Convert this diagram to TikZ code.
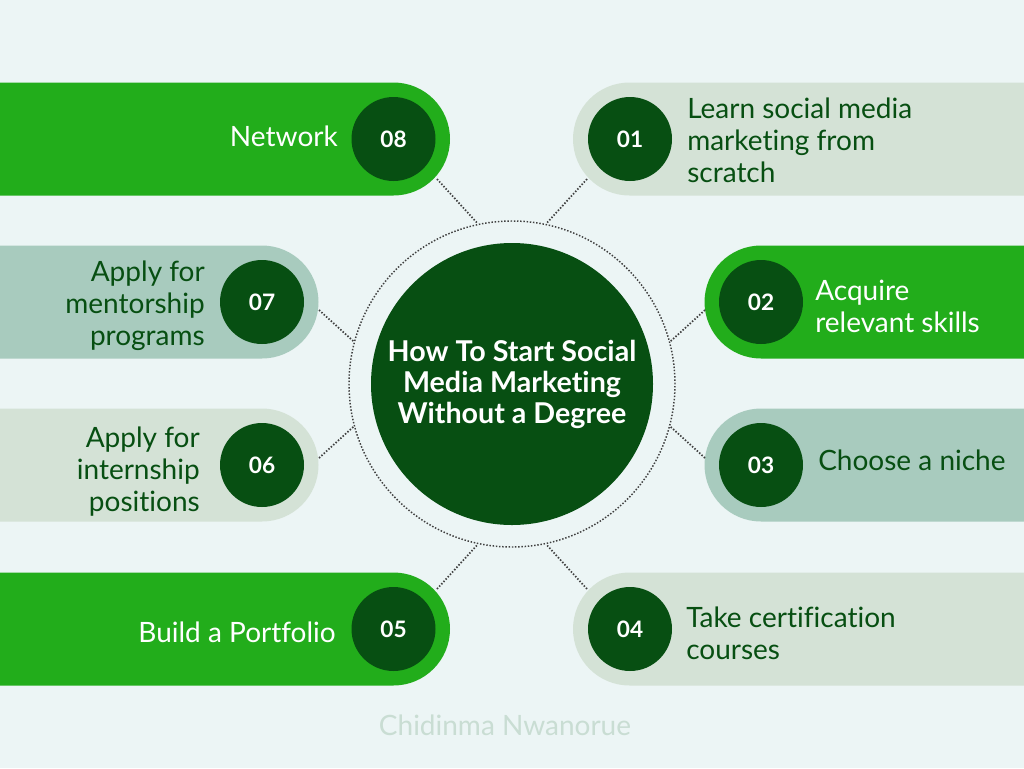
\documentclass[tikz,border=0pt]{standalone}
\usepackage{fontspec}
\setmainfont{Lato}[Ligatures=NoCommon]
\definecolor{bg}{HTML}{ECF5F5}
\definecolor{bright}{HTML}{22AD1B}
\definecolor{dark}{HTML}{074F12}
\definecolor{sage}{HTML}{A8CBBE}
\definecolor{pale}{HTML}{D4E2D6}
\definecolor{mark}{HTML}{C9DDD3}
\definecolor{dotc}{HTML}{404040}
\tikzset{
  bar/.style={rounded corners=42.4pt},
  numc/.style={circle, fill=dark, minimum size=63pt, inner sep=0pt, text=white, font=\bfseries\fontsize{17}{19}\selectfont},
  lbl/.style={font=\fontsize{21}{24}\selectfont, inner sep=0pt},
  conn/.style={draw=dotc, line width=1.3pt, dash pattern=on 1.1pt off 1.3pt},
}
\begin{document}
\begin{tikzpicture}[x=0.75pt,y=-0.75pt]
\useasboundingbox (0,0) rectangle (1024,768);
\clip (0,0) rectangle (1024,768);
\fill[bg] (0,0) rectangle (1024,768);
% bars
\fill[bright,bar] (-80,82.5) rectangle (450,195.5);
\fill[sage,bar] (-80,245.5) rectangle (318.5,358.5);
\fill[pale,bar] (-80,408.5) rectangle (318.5,521.5);
\fill[bright,bar] (-80,572.5) rectangle (450,685.5);
\fill[pale,bar] (573,82.5) rectangle (1104,195.5);
\fill[bright,bar] (704.5,245.5) rectangle (1104,358.5);
\fill[sage,bar] (704.5,408.5) rectangle (1104,521.5);
\fill[pale,bar] (573,572.5) rectangle (1104,685.5);
% ring and hub
\node[circle, draw=dotc, line width=1.1pt, dash pattern=on 1.1pt off 1.3pt, minimum size=244.5pt, inner sep=0pt] (ring) at (512,384) {};
\node[circle, fill=dark, minimum size=211.5pt, inner sep=0pt, text=white, align=center,
  font=\bfseries\fontsize{21.5}{23.25}\selectfont] (hub) at (512,384) {How To Start Social\\Media Marketing\\Without a Degree};
% number circles
\node[numc] (n8) at (393.5,139) {08};
\node[numc] (n7) at (262,302) {07};
\node[numc] (n6) at (262,465) {06};
\node[numc] (n5) at (393.5,629) {05};
\node[numc] (n1) at (630,139) {01};
\node[numc] (n2) at (761,302) {02};
\node[numc] (n3) at (761,465) {03};
\node[numc] (n4) at (630,629) {04};
% labels
\node[lbl, text=white, anchor=east] (t8) at (338,136) {Network};
\node[lbl, text=dark, anchor=east, align=right] (t7) at (205,306) {Apply for\\mentorship\\programs};
\node[lbl, text=dark, anchor=east, align=right] (t6) at (200,472) {Apply for\\internship\\positions};
\node[lbl, text=white, anchor=east] (t5) at (336,632) {Build a Portfolio};
\node[lbl, text=dark, anchor=west, align=left] (t1) at (687,140) {Learn social media\\marketing from\\scratch};
\node[lbl, text=white, anchor=west, align=left] (t2) at (815,306) {Acquire\\relevant skills};
\node[lbl, text=dark, anchor=west] (t3) at (818,460) {Choose a niche};
\node[lbl, text=dark, anchor=west, align=left] (t4) at (686,633) {Take certification\\courses};
% connector ends
\coordinate (c8) at (437,179);
\coordinate (c1) at (587,179);
\coordinate (c7) at (319,310);
\coordinate (c2) at (705,310);
\coordinate (c6) at (319,458);
\coordinate (c3) at (705,458);
\coordinate (c5) at (437,589);
\coordinate (c4) at (587,589);
\draw[conn] (c8) -- (ring.102);
\draw[conn] (c1) -- (ring.78);
\draw[conn] (c7) -- (ring.165);
\draw[conn] (c2) -- (ring.15);
\draw[conn] (c6) -- (ring.195);
\draw[conn] (c3) -- (ring.345);
\draw[conn] (c5) -- (ring.258);
\draw[conn] (c4) -- (ring.282);
% watermark
\node[text=mark, font=\fontsize{21}{24}\selectfont] (wm) at (505,725) {Chidinma Nwanorue};
\end{tikzpicture}
\end{document}
